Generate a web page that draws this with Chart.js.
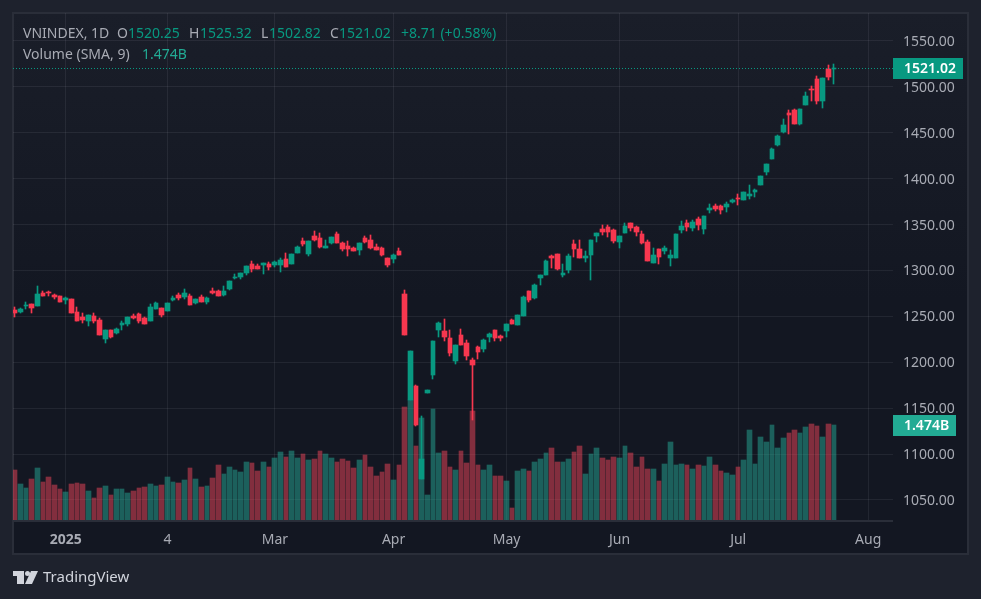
<!DOCTYPE html>
<html>
<head>
<meta charset="utf-8">
<title>VNINDEX, 1D</title>
<script src="https://cdn.jsdelivr.net/npm/chart.js@4/dist/chart.umd.min.js"></script>
<style>
    html, body { margin: 0; padding: 0; background: #1e222d; overflow: hidden; }
    canvas { display: block; }
    #logo { position: absolute; left: 13px; top: 570px; }
</style>
</head>
<body>
<canvas id="chart" width="981" height="599"></canvas>
<svg id="logo" width="25" height="14" viewBox="0 0 25 14">
    <path fill="#d1d4dc" d="M0 1h11v13H4V6H0z"/>
    <circle fill="#d1d4dc" cx="14.5" cy="3.5" r="2.5"/>
    <path fill="#d1d4dc" d="M18 1h7l-6 13h-7z"/>
</svg>
<script>
// ── Data ──
const opens = [
    1256.9,1254.7,1260.9,1263.4,1261.2,1275.0,1276.1,1273.2,1272.1,1267.8,
    1268.8,1254.7,1249.3,1244.9,1250.4,1246.0,1225.4,1235.1,1231.9,1240.6,
    1241.7,1250.4,1252.5,1248.2,1244.9,1258.0,1259.1,1255.8,1267.8,1273.2,
    1271.0,1272.1,1264.5,1271.0,1265.6,1277.5,1277.5,1273.2,1279.7,1291.7,
    1292.8,1297.1,1306.9,1304.7,1305.8,1306.9,1305.8,1305.8,1312.3,1306.9,
    1318.8,1332.6,1318.5,1338.0,1335.9,1325.0,1330.4,1340.2,1330.4,1327.2,
    1325.0,1322.8,1335.9,1333.7,1326.1,1325.0,1314.1,1313.0,1321.7,1273.9,
    1158.6,1173.8,1073.0,1166.2,1185.7,1234.7,1233.6,1226.0,1201.0,1229.3,
    1220.6,1202.1,1216.2,1214.0,1227.1,1234.7,1228.2,1233.6,1245.6,1240.1,
    1250.4,1277.5,1269.9,1291.7,1294.9,1315.6,1317.8,1294.9,1300.4,1328.6,
    1323.2,1313.4,1316.7,1337.3,1344.9,1347.1,1343.8,1330.8,1340.6,1351.4,
    1347.1,1339.5,1330.8,1308.0,1323.2,1321.0,1313.4,1313.4,1343.8,1351.4,
    1346.0,1355.8,1344.9,1365.6,1369.9,1369.9,1368.8,1374.3,1378.6,1376.5,
    1380.8,1385.2,1392.8,1406.9,1421.0,1436.2,1450.4,1472.1,1474.3,1459.1,
    1480.8,1498.2,1509.1,1485.1,1519.9,1520.25
];
const highs = [
    1260.1,1259.1,1265.6,1263.4,1283.0,1277.5,1277.5,1274.3,1272.1,1271.0,
    1268.8,1260.1,1253.6,1251.5,1253.6,1248.2,1235.1,1235.1,1237.3,1244.9,
    1249.3,1252.5,1253.6,1249.3,1263.4,1265.6,1259.1,1264.5,1272.1,1275.4,
    1279.7,1274.3,1268.8,1273.2,1271.0,1280.8,1278.6,1283.0,1288.4,1296.0,
    1297.1,1304.7,1310.1,1306.9,1308.0,1309.1,1310.1,1313.4,1318.8,1317.8,
    1326.4,1335.9,1332.6,1343.5,1341.3,1333.7,1336.9,1342.4,1331.5,1332.6,
    1326.1,1330.4,1338.0,1339.1,1329.3,1326.1,1314.1,1318.5,1325.0,1278.2,
    1211.9,1174.9,1141.6,1169.4,1222.7,1243.4,1246.7,1234.7,1218.4,1235.8,
    1223.8,1204.2,1217.3,1224.9,1231.4,1234.7,1229.3,1241.2,1246.7,1251.0,
    1272.1,1277.5,1285.1,1294.9,1311.2,1316.7,1317.8,1306.9,1317.8,1333.0,
    1333.0,1321.0,1333.0,1340.6,1349.3,1349.3,1344.9,1337.3,1351.4,1351.4,
    1348.2,1342.8,1333.0,1324.3,1323.2,1326.4,1322.1,1339.5,1353.6,1354.7,
    1354.7,1358.0,1359.1,1372.1,1372.1,1371.0,1374.3,1377.5,1383.0,1385.2,
    1392.8,1388.4,1402.5,1415.6,1433.0,1447.1,1464.5,1474.3,1476.4,1476.4,
    1494.9,1501.4,1512.3,1510.1,1524.3,1525.32
];
const lows = [
    1249.3,1253.6,1258.0,1253.6,1261.2,1272.1,1272.1,1268.8,1265.6,1263.4,
    1253.6,1244.9,1242.8,1239.5,1242.8,1229.7,1221.0,1226.5,1230.8,1235.1,
    1239.5,1247.1,1242.8,1241.7,1244.9,1258.0,1249.3,1255.8,1266.7,1267.8,
    1268.8,1262.3,1263.4,1265.6,1263.4,1274.3,1272.1,1272.1,1278.6,1290.6,
    1290.6,1294.9,1298.2,1301.4,1296.0,1300.4,1303.6,1298.2,1303.6,1306.9,
    1318.8,1327.2,1316.3,1332.6,1325.0,1325.0,1329.3,1330.4,1321.7,1316.3,
    1321.7,1317.4,1330.4,1323.9,1322.8,1316.3,1304.3,1308.7,1317.4,1229.3,
    1158.6,1130.7,1073.0,1166.2,1181.4,1227.1,1222.7,1206.4,1197.7,1218.4,
    1202.1,1137.3,1203.1,1210.8,1221.6,1222.7,1222.7,1227.1,1241.2,1240.1,
    1250.4,1265.6,1268.8,1284.1,1294.9,1302.5,1300.4,1292.8,1297.1,1314.5,
    1313.4,1309.1,1289.5,1330.8,1338.4,1336.2,1329.7,1324.3,1340.6,1342.8,
    1337.3,1328.6,1310.1,1308.0,1306.9,1317.8,1304.7,1313.4,1340.6,1342.8,
    1342.8,1343.8,1339.5,1362.3,1364.5,1361.2,1363.4,1373.2,1371.0,1376.5,
    1377.5,1379.7,1392.8,1403.6,1421.0,1435.1,1449.3,1448.2,1460.1,1458.0,
    1480.8,1485.1,1481.9,1477.5,1508.0,1502.82
];
const closes = [
    1253.6,1258.0,1262.0,1259.1,1274.3,1272.1,1275.0,1271.0,1265.6,1269.9,
    1253.6,1244.9,1246.0,1251.5,1244.9,1229.7,1235.1,1227.5,1236.2,1242.8,
    1249.3,1248.2,1244.9,1241.7,1260.1,1264.5,1251.5,1264.5,1269.9,1269.9,
    1275.4,1262.3,1268.8,1265.6,1269.9,1275.4,1272.1,1277.5,1288.4,1292.8,
    1297.1,1304.7,1301.4,1301.4,1308.0,1303.6,1309.1,1311.2,1303.6,1317.8,
    1325.4,1329.3,1332.6,1333.7,1326.1,1327.2,1336.9,1330.4,1323.9,1323.9,
    1321.7,1330.4,1331.5,1325.0,1322.8,1317.4,1306.5,1317.4,1317.4,1229.3,
    1211.9,1131.8,1094.8,1169.4,1222.7,1242.3,1227.1,1209.7,1218.4,1218.4,
    1206.4,1196.6,1210.8,1223.8,1230.3,1226.0,1226.0,1241.2,1241.2,1251.0,
    1271.0,1267.8,1284.1,1294.9,1310.1,1313.4,1301.5,1297.1,1315.6,1323.2,
    1313.4,1315.6,1333.0,1340.6,1341.7,1341.7,1331.9,1337.3,1348.2,1346.0,
    1341.7,1329.7,1310.1,1316.7,1314.5,1324.3,1316.7,1339.5,1348.2,1347.1,
    1352.5,1349.3,1359.1,1367.8,1366.7,1365.6,1372.1,1376.4,1377.5,1385.2,
    1383.0,1387.3,1402.5,1415.6,1431.9,1446.0,1458.0,1469.9,1460.1,1476.4,
    1490.6,1497.1,1484.1,1510.1,1511.2,1521.02
];
// billions of shares
const volumes = [
    0.776,0.559,0.497,0.636,0.807,0.590,0.667,0.543,0.481,0.435,
    0.559,0.574,0.559,0.450,0.341,0.497,0.528,0.388,0.481,0.481,
    0.419,0.450,0.497,0.512,0.559,0.528,0.543,0.667,0.590,0.574,
    0.621,0.807,0.636,0.512,0.528,0.652,0.854,0.714,0.823,0.776,
    0.745,0.900,0.885,0.760,0.900,0.823,0.962,1.055,0.978,1.071,
    0.962,1.024,0.931,0.947,1.071,1.024,0.962,0.900,0.947,0.916,
    0.807,0.931,1.009,0.823,0.683,0.745,0.869,0.621,0.854,1.754,
    1.862,1.148,1.583,0.388,1.723,1.040,1.071,0.823,0.776,1.071,
    0.885,1.692,0.854,0.776,0.854,0.683,0.683,0.605,0.186,0.760,
    0.791,0.760,0.900,0.947,1.040,1.117,0.900,0.900,0.947,1.055,
    1.148,0.714,1.024,1.117,0.962,0.931,0.978,0.962,1.148,1.040,
    0.823,0.978,0.791,0.791,0.605,0.869,1.210,0.854,0.869,0.854,
    0.791,0.854,0.838,0.978,0.854,0.760,0.729,0.698,0.823,0.931,
    1.397,0.869,1.288,1.210,1.474,1.117,1.273,1.350,1.397,1.350,
    1.443,1.490,1.459,1.288,1.490,1.474
];
const timeTicks = [9, 27, 46, 67, 87, 107, 128, 151];
const timeLabels = ['2025', '4', 'Mar', 'Apr', 'May', 'Jun', 'Jul', 'Aug'];
const priceTicks = [1050, 1100, 1150, 1200, 1250, 1300, 1350, 1400, 1450, 1500, 1550];

const symbolLabel = 'VNINDEX, 1D';
const changeLabel = '+8.71 (+0.58%)';
const volumeName = 'Volume (SMA, 9)';
const volumeLabel = '1.474B';

// ── Colours ──
const UP = '#089981';
const DOWN = '#f7374f';
const UP_VOL = 'rgba(38,170,150,0.5)';
const DOWN_VOL = 'rgba(242,70,90,0.5)';
const GRID = 'rgba(240,243,250,0.07)';
const TEXT = '#a8abb4';
const FONT = '"Noto Sans", sans-serif';

const isUp = closes.map((c, i) => c >= opens[i]);
const candleColors = isUp.map(u => u ? UP : DOWN);
const volumeColors = isUp.map(u => u ? UP_VOL : DOWN_VOL);

// ── Pixel snap: bars are 4 or 5px wide with a 1px gap, wicks sit on a whole pixel ──
const snapBars = {
    id: 'snapBars',
    afterDatasetsUpdate(chart) {
        const xScale = chart.scales.x;
        chart.getSortedVisibleDatasetMetas().forEach(meta => {
            const isWick = meta.label === 'Wick';
            meta.data.forEach((el, i) => {
                const start = Math.round(xScale.getPixelForValue(i) - 2.5);
                const next = Math.round(xScale.getPixelForValue(i + 1) - 2.5);
                const w = next - start - 1;
                if (isWick) {
                    el.width = 1;
                    el.x = start + Math.floor((w - 1) / 2) + 0.5;
                } else {
                    el.width = w;
                    el.x = start + w / 2;
                }
                el.y = Math.round(el.y);
                el.base = Math.round(el.base);
                if (el.y === el.base) el.base += 1;
            });
        });
    }
};

// ── Pane background and frame ──
const pane = {
    id: 'pane',
    beforeDraw(chart) {
        const ctx = chart.ctx;
        const grad = ctx.createLinearGradient(0, 13, 0, 300);
        grad.addColorStop(0, '#1a1e29');
        grad.addColorStop(1, '#131722');
        ctx.save();
        ctx.fillStyle = '#1e222d';
        ctx.fillRect(0, 0, chart.width, chart.height);
        ctx.fillStyle = grad;
        ctx.fillRect(13, 13, 955, 508);
        ctx.fillStyle = '#131722';
        ctx.fillRect(13, 521, 955, 33);
        ctx.strokeStyle = '#2a2e39';
        ctx.lineWidth = 2;
        ctx.strokeRect(13, 13, 955, 541);
        ctx.restore();
    }
};

// ── Header, badges and footer ──
function text(ctx, str, x, y, color, font) {
    ctx.fillStyle = color;
    ctx.font = font;
    ctx.fillText(str, x, y);
}

const overlay = {
    id: 'overlay',
    afterDraw(chart) {
        const ctx = chart.ctx;
        const { left, right, bottom } = chart.chartArea;
        const last = closes.length - 1;
        const lastY = Math.round(chart.scales.y.getPixelForValue(closes[last]));
        const volY = Math.round(chart.scales.v.getPixelForValue(volumes[last]));
        const f = '14px ' + FONT;

        ctx.save();
        ctx.textBaseline = 'middle';
        ctx.textAlign = 'left';

        // line between the pane and the time axis
        ctx.fillStyle = '#2a2e39';
        ctx.fillRect(left, bottom - 1, right - left, 2);

        // last price line
        ctx.strokeStyle = UP;
        ctx.lineWidth = 1;
        ctx.setLineDash([1, 2]);
        ctx.beginPath();
        ctx.moveTo(left, lastY + 0.5);
        ctx.lineTo(right, lastY + 0.5);
        ctx.stroke();
        ctx.setLineDash([]);

        // last price badge
        ctx.fillStyle = UP;
        ctx.fillRect(right, lastY - 10, 70, 21);
        text(ctx, closes[last].toFixed(2), right + 11, lastY + 1, '#ffffff', '600 14px ' + FONT);

        // volume badge
        ctx.fillStyle = '#22ab94';
        ctx.fillRect(right, volY - 10, 63, 21);
        text(ctx, volumeLabel, right + 11, volY + 1, '#ffffff', '600 14px ' + FONT);

        // header
        text(ctx, symbolLabel, 23, 34, TEXT, f);
        text(ctx, 'O', 117, 34, TEXT, f);
        text(ctx, opens[last].toFixed(2), 128, 34, UP, f);
        text(ctx, 'H', 189, 34, TEXT, f);
        text(ctx, highs[last].toFixed(2), 200, 34, UP, f);
        text(ctx, 'L', 261, 34, TEXT, f);
        text(ctx, lows[last].toFixed(2), 269, 34, UP, f);
        text(ctx, 'C', 330, 34, TEXT, f);
        text(ctx, closes[last].toFixed(2), 339, 34, UP, f);
        text(ctx, changeLabel, 401, 34, UP, f);
        text(ctx, volumeName, 23, 55, TEXT, f);
        text(ctx, volumeLabel, 142, 55, '#22ab94', f);

        // footer
        text(ctx, 'TradingView', 43, 578, '#d1d4dc', '15px ' + FONT);
        ctx.restore();
    }
};

// ── Chart ──
const indexes = closes.map((_, i) => i);

new Chart(document.getElementById('chart'), {
    type: 'bar',
    plugins: [pane, snapBars, overlay],
    data: {
        datasets: [
            {
                label: 'Body',
                data: indexes.map(i => ({ x: i, y: [opens[i], closes[i]] })),
                backgroundColor: candleColors,
                barThickness: 5,
                grouped: false,
                yAxisID: 'y',
                order: 1
            },
            {
                label: 'Wick',
                data: indexes.map(i => ({ x: i, y: [lows[i], highs[i]] })),
                backgroundColor: candleColors,
                barThickness: 1,
                grouped: false,
                yAxisID: 'y',
                order: 2
            },
            {
                label: 'Volume',
                data: indexes.map(i => ({ x: i, y: volumes[i] })),
                backgroundColor: volumeColors,
                barThickness: 5,
                grouped: false,
                yAxisID: 'v',
                order: 3
            }
        ]
    },
    options: {
        responsive: false,
        animation: false,
        devicePixelRatio: 1,
        layout: { padding: { left: 13, top: 13, right: 13, bottom: 45 } },
        plugins: { legend: { display: false }, tooltip: { enabled: false } },
        scales: {
            x: {
                type: 'linear',
                offset: false,
                min: -0.354,
                max: 155.4,
                afterFit(axis) {
                    axis.height = 33;
                    axis.paddingLeft = 0;
                    axis.paddingRight = 0;
                },
                afterBuildTicks(axis) { axis.ticks = timeTicks.map(v => ({ value: v })); },
                grid: { color: GRID, drawTicks: false, offset: false },
                border: { display: false },
                ticks: {
                    autoSkip: false,
                    maxRotation: 0,
                    padding: 11,
                    color: TEXT,
                    font: ctx => ({ family: FONT, size: 14, weight: ctx.index === 0 ? '700' : '400' }),
                    callback: v => timeLabels[timeTicks.indexOf(v)]
                }
            },
            y: {
                position: 'right',
                min: 1027.1,
                max: 1580.5,
                afterFit(axis) {
                    axis.width = 75;
                    axis.paddingTop = 0;
                    axis.paddingBottom = 0;
                },
                afterBuildTicks(axis) { axis.ticks = priceTicks.map(v => ({ value: v })); },
                grid: { color: GRID, drawTicks: false },
                border: { display: false },
                ticks: {
                    padding: 10,
                    labelOffset: 1,
                    color: TEXT,
                    font: { family: FONT, size: 14 },
                    callback: v => v.toFixed(2)
                }
            },
            v: {
                display: false,
                min: -0.0155,
                max: 7.869
            }
        }
    }
});
</script>
</body>
</html>
